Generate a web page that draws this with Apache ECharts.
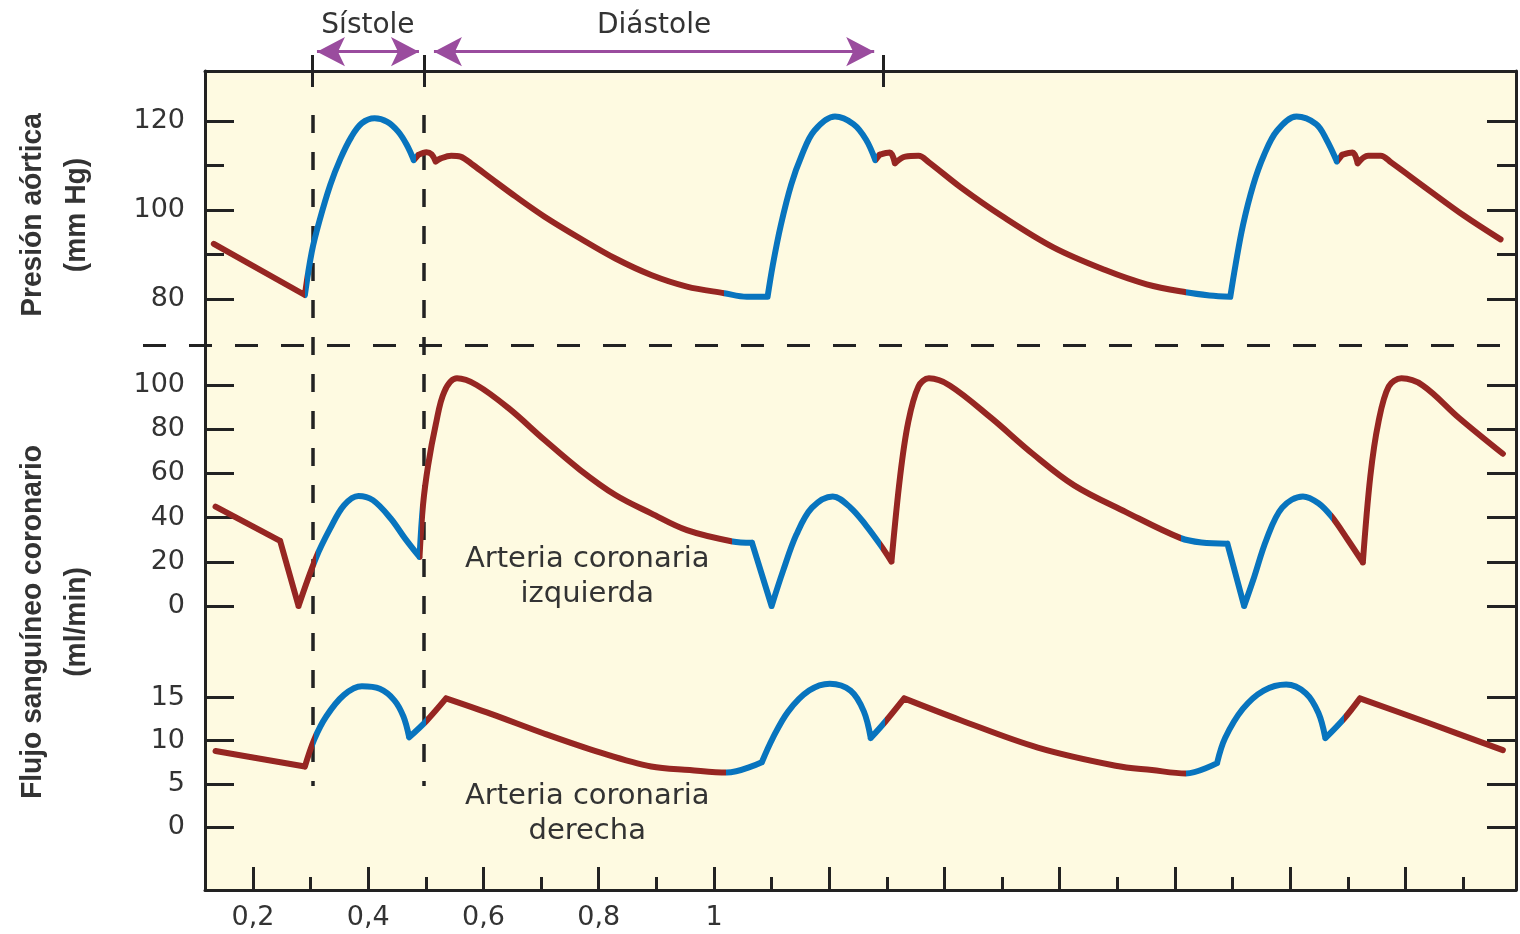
<!DOCTYPE html>
<html>
<head>
<meta charset="utf-8">
<title>Presión aórtica y flujo sanguíneo coronario</title>
<script src="https://cdn.jsdelivr.net/npm/echarts@6/dist/echarts.min.js"></script>
<style>
  html, body { margin: 0; padding: 0; background: #fff; }
  #chart { width: 1520px; height: 934px; }
</style>
</head>
<body>
<div id="chart"></div>
<script>
// [tiempo (s), valor]
const aorticPressure = [
  [0.132, 92.4], [0.290, 80.9], [0.302, 90.6], [0.315, 97.4], [0.334, 105.6], [0.352, 111.6],
  [0.371, 116.5], [0.389, 119.5], [0.411, 120.6], [0.433, 119.8], [0.452, 117.6], [0.467, 114.6],
  [0.479, 111.2], [0.487, 112.4], [0.501, 113.0], [0.510, 112.5], [0.517, 110.9], [0.526, 111.6],
  [0.544, 112.2], [0.560, 112.0], [0.582, 110.1], [0.613, 107.1], [0.656, 103.0], [0.706, 98.5],
  [0.768, 93.6], [0.829, 89.1], [0.891, 85.4], [0.953, 82.8], [1.018, 81.3], [1.057, 80.5],
  [1.093, 80.5], [1.102, 87.6], [1.116, 96.6], [1.134, 105.7], [1.152, 112.2], [1.174, 117.8],
  [1.210, 121.0], [1.242, 119.3], [1.264, 115.8], [1.280, 111.2], [1.287, 112.4], [1.305, 112.9],
  [1.314, 110.5], [1.332, 112.0], [1.355, 112.2], [1.373, 110.7], [1.427, 105.2], [1.499, 98.7],
  [1.589, 91.6], [1.679, 86.5], [1.751, 83.3], [1.819, 81.5], [1.860, 80.8], [1.896, 80.5],
  [1.905, 87.6], [1.918, 96.6], [1.936, 105.7], [1.954, 112.2], [1.977, 117.8], [2.011, 121.0],
  [2.045, 119.3], [2.063, 115.8], [2.081, 110.9], [2.090, 112.4], [2.108, 112.9], [2.117, 110.5],
  [2.135, 112.2], [2.157, 112.2], [2.175, 110.7], [2.238, 104.7], [2.302, 98.7], [2.365, 93.4]
];
const leftCoronaryFlow = [
  [0.135, 45.0], [0.247, 29.5], [0.279, 0], [0.309, 21.6], [0.334, 35.1], [0.358, 45.6],
  [0.383, 49.8], [0.408, 47.9], [0.439, 39.6], [0.464, 30.5], [0.489, 22.2], [0.495, 45.6],
  [0.504, 63.8], [0.517, 81.9], [0.532, 97.0], [0.554, 103.0], [0.588, 100.0], [0.644, 89.4],
  [0.706, 75.1], [0.768, 61.5], [0.829, 50.2], [0.891, 41.9], [0.953, 34.3], [1.032, 29.2],
  [1.066, 28.6], [1.100, 0], [1.120, 16.0], [1.143, 32.3], [1.170, 44.5], [1.206, 49.6],
  [1.237, 44.5], [1.264, 36.4], [1.290, 27.2], [1.308, 20.1], [1.323, 58.7], [1.337, 83.1],
  [1.355, 99.4], [1.373, 103.0], [1.409, 99.8], [1.481, 85.1], [1.553, 68.9], [1.625, 54.6],
  [1.715, 42.5], [1.810, 30.7], [1.846, 28.7], [1.891, 28.2], [1.920, 0], [1.936, 12.0],
  [1.959, 30.3], [1.986, 44.5], [2.022, 49.6], [2.049, 46.5], [2.072, 40.4], [2.099, 30.3],
  [2.126, 19.7], [2.139, 58.7], [2.153, 83.1], [2.171, 99.4], [2.193, 103.0], [2.230, 99.8],
  [2.293, 85.1], [2.369, 68.9]
];
const rightCoronaryFlow = [
  [0.135, 8.8], [0.290, 7.0], [0.306, 10.1], [0.327, 12.8], [0.358, 15.3], [0.389, 16.3],
  [0.420, 16.0], [0.445, 14.7], [0.461, 12.8], [0.471, 10.4], [0.501, 12.3], [0.535, 14.9],
  [0.613, 13.1], [0.706, 10.8], [0.799, 8.7], [0.891, 7.0], [0.958, 6.6], [1.022, 6.3],
  [1.083, 7.5], [1.102, 10.3], [1.129, 13.4], [1.165, 15.8], [1.201, 16.6], [1.237, 15.8],
  [1.260, 13.4], [1.272, 10.3], [1.296, 12.1], [1.330, 14.9], [1.427, 12.4], [1.562, 9.2],
  [1.697, 7.1], [1.760, 6.6], [1.819, 6.2], [1.873, 7.4], [1.887, 10.3], [1.918, 13.7],
  [1.954, 15.8], [1.993, 16.5], [2.027, 15.5], [2.049, 13.2], [2.061, 10.3], [2.094, 12.6],
  [2.121, 14.9], [2.238, 12.1], [2.369, 8.9]
];

// instantes con esquina marcada (sin suavizado a través de ellos)
const aorticCorners = [0.290, 0.479, 0.487, 0.517, 1.093, 1.280, 1.287, 1.314, 1.896, 2.081, 2.090, 2.117];
const leftCorners = [0.247, 0.279, 0.489, 1.066, 1.100, 1.308, 1.891, 1.920, 2.126];
const rightCorners = [0.290, 0.471, 0.535, 1.083, 1.272, 1.330, 1.873, 2.061, 2.121];

// tramos en azul de cada curva [inicio, fin] (s)
const aorticBlue = [[0.290, 0.483], [1.017, 1.283], [1.819, 2.085]];
const leftBlue = [[0.309, 0.489], [1.032, 1.290], [1.810, 2.072]];
const rightBlue = [[0.306, 0.501], [1.021, 1.296], [1.819, 2.094]];

// eje de tiempo
const xLabels = [0.2, 0.4, 0.6, 0.8, 1];
const xMajorTicks = [0.2, 0.4, 0.6, 0.8, 1, 1.2, 1.4, 1.6, 1.8, 2, 2.2];
const xMinorTicks = [0.3, 0.5, 0.7, 0.9, 1.1, 1.3, 1.5, 1.7, 1.9, 2.1, 2.3];
const phaseMarks = [0.303, 0.497, 1.293]; // inicio sístole, inicio diástole, fin diástole
const phaseNames = ['Sístole', 'Diástole'];
// extremos de las flechas (puntas), en s
const phaseArrows = [[0.311, 0.488], [0.514, 1.278]];

const X_MIN = 0.1167;
const X_MAX = 2.3918;
const RED = '#962622';
const BLUE = '#0874be';
const INK = '#222';
const TEXT = '#333';

const chart = echarts.init(document.getElementById('chart'));

function colorPieces (windows) {
  const pieces = [{ lt: windows[0][0], color: RED }];
  windows.forEach((w, i) => {
    pieces.push({ gte: w[0], lt: w[1], color: BLUE });
    const next = windows[i + 1];
    if (next) pieces.push({ gte: w[1], lt: next[0], color: RED });
    else pieces.push({ gte: w[1], color: RED });
  });
  return pieces;
}

// corta el trazo en las esquinas para que el suavizado no las redondee
function withCorners (points, corners) {
  const out = [];
  points.forEach(p => {
    out.push(p);
    if (corners.includes(p[0])) {
      out.push([p[0], '-']);
      out.push(p);
    }
  });
  return out;
}

const gridBase = { left: 205, right: 4 };
const tickStyle = { color: INK, width: 3 };
const labelStyle = { fontSize: 27, color: TEXT, fontFamily: 'DejaVu Sans', margin: 20 };

function panelY (gridIndex, min, max, interval, side, minor) {
  return {
    type: 'value', gridIndex, position: side, min, max, interval,
    axisLine: { show: false, onZero: false },
    axisTick: { show: true, inside: true, length: 29, lineStyle: tickStyle },
    minorTick: { show: !!minor, splitNumber: 2, length: 19, lineStyle: tickStyle },
    axisLabel: side === 'left' ? labelStyle : { show: false },
    splitLine: { show: false },
    minorSplitLine: { show: false }
  };
}

function hiddenX (gridIndex, min) {
  return { type: 'value', gridIndex, min: min, max: X_MAX, show: false };
}

function curve (name, data, corners, xIdx, yIdx) {
  return {
    name, type: 'line', xAxisIndex: xIdx, yAxisIndex: yIdx,
    data: withCorners(data, corners),
    showSymbol: false, smooth: 0.35, clip: false, z: 5, connectNulls: false,
    lineStyle: { width: 6, cap: 'round', join: 'round' }
  };
}

const textLabel = { fontSize: 29, lineHeight: 35, color: TEXT, fontFamily: 'DejaVu Sans' };

const option = {
  animation: false,
  backgroundColor: '#fff',
  textStyle: { fontFamily: 'DejaVu Sans' },
  grid: [
    { ...gridBase, top: 71, bottom: 44, show: true, backgroundColor: '#fefae1', borderWidth: 0 },
    { ...gridBase, top: 121, bottom: 635 },
    { ...gridBase, top: 385, bottom: 328 },
    { ...gridBase, top: 697.5, bottom: 107 },
    // capa de anotaciones: misma escala de tiempo, algo más ancha y alta que el marco
    { left: 140, right: 4, top: 30, bottom: 44 }
  ],
  xAxis: [
    {
      type: 'value', gridIndex: 0, position: 'bottom', min: X_MIN, max: X_MAX,
      axisLine: { show: true, onZero: false, lineStyle: { color: INK, width: 3 } },
      axisTick: { show: true, inside: true, length: 23, lineStyle: tickStyle, customValues: xMajorTicks },
      axisLabel: {
        ...labelStyle, margin: 14, customValues: xLabels,
        formatter: v => String(v).replace('.', ',')
      },
      splitLine: { show: false }
    },
    {
      type: 'value', gridIndex: 0, position: 'bottom', min: X_MIN, max: X_MAX,
      axisLine: { show: false, onZero: false },
      axisTick: { show: true, inside: true, length: 13, lineStyle: tickStyle, customValues: xMinorTicks },
      axisLabel: { show: false },
      splitLine: { show: false }
    },
    {
      type: 'value', gridIndex: 0, position: 'top', min: X_MIN, max: X_MAX,
      axisLine: { show: true, onZero: false, lineStyle: { color: INK, width: 3 } },
      axisTick: { show: true, inside: false, length: 16, lineStyle: tickStyle, customValues: phaseMarks },
      axisLabel: { show: false },
      splitLine: { show: false }
    },
    {
      type: 'value', gridIndex: 0, position: 'top', min: X_MIN, max: X_MAX,
      axisLine: { show: false, onZero: false },
      axisTick: { show: true, inside: true, length: 16, lineStyle: tickStyle, customValues: phaseMarks },
      axisLabel: { show: false },
      splitLine: { show: false }
    },
    hiddenX(1, X_MIN), hiddenX(2, X_MIN), hiddenX(3, X_MIN),
    hiddenX(4, 0.0039)
  ],
  yAxis: [
    // marco (0 = borde inferior, 1 = borde superior)
    {
      type: 'value', gridIndex: 0, position: 'left', min: 0, max: 1,
      axisLine: { show: true, onZero: false, lineStyle: { color: INK, width: 3 } },
      axisTick: { show: false }, axisLabel: { show: false }, splitLine: { show: false }
    },
    {
      type: 'value', gridIndex: 0, position: 'right', min: 0, max: 1,
      axisLine: { show: true, onZero: false, lineStyle: { color: INK, width: 3 } },
      axisTick: { show: false }, axisLabel: { show: false }, splitLine: { show: false }
    },
    panelY(1, 80, 120, 20, 'left', true),
    panelY(1, 80, 120, 20, 'right', true),
    panelY(2, 0, 100, 20, 'left'),
    panelY(2, 0, 100, 20, 'right'),
    panelY(3, 0, 15, 5, 'left'),
    panelY(3, 0, 15, 5, 'right'),
    // anotaciones, en fracciones de la altura del marco
    { type: 'value', gridIndex: 4, min: 0, max: 1.0501, show: false }
  ],
  visualMap: [
    { type: 'piecewise', show: false, seriesIndex: 0, dimension: 0, pieces: colorPieces(aorticBlue) },
    { type: 'piecewise', show: false, seriesIndex: 1, dimension: 0, pieces: colorPieces(leftBlue) },
    { type: 'piecewise', show: false, seriesIndex: 2, dimension: 0, pieces: colorPieces(rightBlue) }
  ],
  series: [
    curve('Presión aórtica', aorticPressure, aorticCorners, 4, 2),
    {
      ...curve('Arteria coronaria izquierda', leftCoronaryFlow, leftCorners, 5, 4),
      markPoint: {
        silent: true, symbol: 'circle', symbolSize: 1,
        itemStyle: { color: 'transparent' },
        label: { show: true, position: 'inside', formatter: 'Arteria coronaria\nizquierda', ...textLabel },
        data: [{ coord: [0.78, 13] }]
      }
    },
    {
      ...curve('Arteria coronaria derecha', rightCoronaryFlow, rightCorners, 6, 6),
      markPoint: {
        silent: true, symbol: 'circle', symbolSize: 1,
        itemStyle: { color: 'transparent' },
        label: { show: true, position: 'inside', formatter: 'Arteria coronaria\nderecha', ...textLabel },
        data: [{ coord: [0.78, 1.5] }]
      }
    },
    {
      // líneas guía discontinuas
      type: 'line', xAxisIndex: 7, yAxisIndex: 8, data: [], silent: true, clip: false, z: 3,
      markLine: {
        silent: true, symbol: 'none', animation: false,
        label: { show: false },
        lineStyle: { color: INK, width: 3.5, type: [18, 19] },
        data: [
          [{ coord: [phaseMarks[0], 0.9463] }, { coord: [phaseMarks[0], 0.127] }],
          [{ coord: [phaseMarks[1], 0.9463] }, { coord: [phaseMarks[1], 0.127] }],
          [{ coord: [0.0091, 0.6654], lineStyle: { color: INK, width: 3, type: [23, 23] } }, { coord: [X_MAX, 0.6654] }]
        ]
      }
    },
    {
      // flechas de sístole y diástole
      type: 'line', xAxisIndex: 7, yAxisIndex: 8, data: [], silent: true, clip: false, z: 3,
      markLine: {
        silent: true, symbol: ['arrow', 'arrow'], symbolSize: [22, 28], animation: false,
        lineStyle: { color: '#9a4c9e', width: 3, type: 'solid' },
        label: {
          show: true, position: 'insideMiddleTop', distance: 12, formatter: '{b}',
          fontSize: 28, color: TEXT, fontFamily: 'DejaVu Sans'
        },
        data: phaseArrows.map((a, i) => [
          { name: phaseNames[i], coord: [a[0], 1.0236] },
          { coord: [a[1], 1.0236] }
        ])
      }
    }
  ],
  graphic: [
    {
      type: 'text', x: 55, y: 215, rotation: Math.PI / 2, scaleX: 0.94,
      style: {
        text: 'Presión aórtica\n(mm Hg)', fontSize: 30, fontWeight: 'bold',
        fontFamily: 'Liberation Sans', fill: TEXT, align: 'center', verticalAlign: 'middle', lineHeight: 44
      }
    },
    {
      type: 'text', x: 55, y: 622, rotation: Math.PI / 2, scaleX: 0.94,
      style: {
        text: 'Flujo sanguíneo coronario\n(ml/min)', fontSize: 30, fontWeight: 'bold',
        fontFamily: 'Liberation Sans', fill: TEXT, align: 'center', verticalAlign: 'middle', lineHeight: 44
      }
    }
  ]
};

chart.setOption(option);
</script>
</body>
</html>
